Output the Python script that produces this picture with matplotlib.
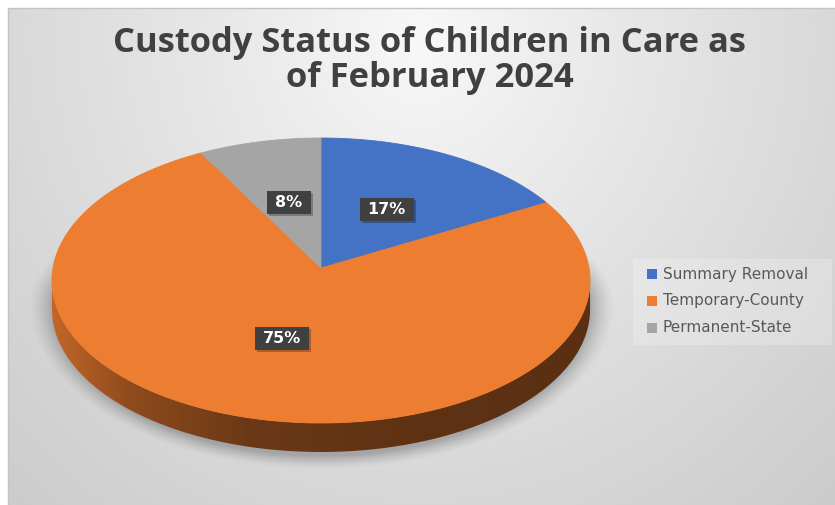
import numpy as np
import matplotlib
matplotlib.use("Agg")
import matplotlib.pyplot as plt
from matplotlib.patches import Polygon, Rectangle
from matplotlib.colors import to_rgb

# ---- data ----
title_lines = ["Custody Status of Children in Care as", "of February 2024"]
categories = ["Summary Removal", "Temporary-County", "Permanent-State"]
values = [17, 75, 8]
colors = ["#4472C4", "#ED7D31", "#A5A5A5"]

W, H = 835, 505
fig = plt.figure(figsize=(W / 100, H / 100), dpi=100)
ax = fig.add_axes([0, 0, 1, 1])
ax.set_xlim(0, W)
ax.set_ylim(H, 0)
ax.axis("off")

yy, xx = np.mgrid[0:H, 0:W] + 0.5

# ---- chart area background: soft radial grey gradient ----
d = np.hypot((xx - 420) / 1.0, (yy - 40) / 1.05)
t = np.clip(d / 640.0, 0, 1) ** 0.9
c0, c1 = np.array([0.975, 0.975, 0.975]), np.array([0.79, 0.79, 0.79])
bg = c0[None, None, :] * (1 - t[..., None]) + c1[None, None, :] * t[..., None]
outside = (xx < 8) | (yy < 8)
bg[outside] = 1.0
ax.imshow(bg, extent=(0, W, H, 0), zorder=0, interpolation="bilinear")
ax.plot([8, 8, W], [H, 8, 8], color="#c4c4c4", lw=1.0, zorder=1)

# ---- pie geometry (tilted disk with mild perspective) ----
cx, cy = 321.0, 268.0
rx, ry = 268.0, 141.4
kp = 0.0877
depth = 29.0


def proj(theta, r=1.0):
    u = r * np.sin(theta)
    v = r * np.cos(theta)
    s = 1.0 / (1.0 + kp * v)
    return cx + rx * u * s, cy - ry * v * s


fr = np.array(values, dtype=float) / np.sum(values)
bounds = np.concatenate([[0], np.cumsum(fr)]) * 2 * np.pi

# ---- soft shadow under the pie ----
cxs, cys = 322.0, 305.0
rxs = 285.0
rys = np.where(yy < cys, 120.0, 160.0)
e = np.sqrt(((xx - cxs) / rxs) ** 2 + ((yy - cys) / rys) ** 2)
soft = 0.09
alpha = np.clip((1.0 - e) / soft + 0.35, 0, 1) ** 1.5 * 0.24
sh = np.zeros((H, W, 4))
sh[..., 3] = alpha
ax.imshow(sh, extent=(0, W, H, 0), zorder=2, interpolation="bilinear")

# ---- side wall (front half of the rim) ----
th_all = np.linspace(0, 2 * np.pi, 3601)
x_all, _ = proj(th_all)
th_r = th_all[np.argmax(x_all)]
th_l = th_all[np.argmin(x_all)]

shade_x = [40, 60, 130, 250, 420, 600]
shade_f = [0.86, 0.80, 0.60, 0.45, 0.40, 0.38]
for i in range(len(values)):
    a0, a1 = max(bounds[i], th_r), min(bounds[i + 1], th_l)
    if a1 <= a0:
        continue
    th = np.linspace(a0, a1, 400)
    px, py = proj(th)
    poly = np.concatenate([np.c_[px, py], np.c_[px[::-1], py[::-1] + depth]])
    patch = Polygon(poly, closed=True, fc="none", ec="none", zorder=3)
    ax.add_patch(patch)
    f = np.interp(xx[0], shade_x, shade_f)
    base = np.array(to_rgb(colors[i]))
    grad = np.tile((base[None, :] * f[:, None])[None, :, :], (H, 1, 1))
    im = ax.imshow(grad, extent=(0, W, H, 0), zorder=3, interpolation="bilinear")
    im.set_clip_path(patch)

# ---- top face wedges ----
for i in range(len(values)):
    th = np.linspace(bounds[i], bounds[i + 1], 300)
    px, py = proj(th)
    poly = np.vstack([[cx, cy], np.c_[px, py]])
    ax.add_patch(Polygon(poly, closed=True, fc=colors[i], ec=colors[i],
                         lw=0.6, zorder=4))

# ---- data labels ----
label_texts = []
for i, v in enumerate(values):
    mid = 0.5 * (bounds[i] + bounds[i + 1])
    lx, ly = proj(mid, 0.5)
    txt = ax.text(lx, ly, f"{v}%", ha="center", va="center", color="white",
                  fontsize=11.5, fontweight="bold", family="DejaVu Sans",
                  zorder=7)
    label_texts.append(txt)

# ---- title ----
tfam = "Open Sans"
t1 = ax.text(W / 2 + 12, 43, title_lines[0], ha="center", va="center",
             fontsize=22, fontweight="bold", color="#404040", family=tfam, zorder=6)
t2 = ax.text(W / 2 + 12, 78, title_lines[1], ha="center", va="center",
             fontsize=22, fontweight="bold", color="#404040", family=tfam, zorder=6)

# ---- legend ----
ax.add_patch(Rectangle((633, 259), 199, 86, fc="white", alpha=0.22, ec="none", zorder=5))
leg_y = [274, 301, 328]
for i, name in enumerate(categories):
    ax.add_patch(Rectangle((647, leg_y[i] - 5), 10, 10, fc=colors[i], ec="none", zorder=6))
    ax.text(663, leg_y[i], name, ha="left", va="center", fontsize=11,
            color="#595959", family="DejaVu Sans", zorder=6)

# fit title width and build label boxes from measured text extents
fig.canvas.draw()
r = fig.canvas.get_renderer()
w1 = t1.get_window_extent(r).width
scale = 630.0 / w1
for t_ in (t1, t2):
    t_.set_fontsize(22 * scale)

inv = ax.transData.inverted()
for txt in label_texts:
    bb = txt.get_window_extent(r)
    (x0, y0), (x1, y1) = inv.transform([[bb.x0, bb.y0], [bb.x1, bb.y1]])
    xc = 0.5 * (x0 + x1)
    yc = txt.get_position()[1]
    bw = abs(x1 - x0) + 16
    bh = 23
    ax.add_patch(Rectangle((xc - bw / 2 + 2, yc - bh / 2 + 2), bw, bh,
                           fc="black", alpha=0.25, ec="none", zorder=5))
    ax.add_patch(Rectangle((xc - bw / 2, yc - bh / 2), bw, bh,
                           fc="#404040", ec="none", zorder=6))

fig.savefig("out.png", dpi=100)
